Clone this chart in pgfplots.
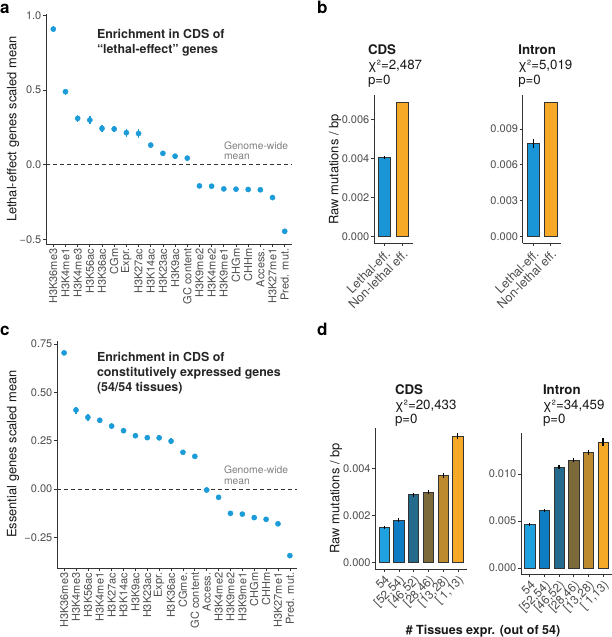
\documentclass[border=0pt]{standalone}
\usepackage{fontspec}
\setmainfont{TeX Gyre Heros}
\usepackage{pgfplots}
\pgfplotsset{compat=1.18}
\definecolor{ptblue}{RGB}{27,155,215}
\definecolor{barblue}{RGB}{26,150,214}
\definecolor{barorange}{RGB}{245,169,39}
\definecolor{dA}{RGB}{31,161,223}
\definecolor{dB}{RGB}{13,124,194}
\definecolor{dC}{RGB}{36,106,141}
\definecolor{dD}{RGB}{124,106,59}
\definecolor{dE}{RGB}{190,138,46}
\definecolor{dF}{RGB}{246,169,39}
\definecolor{axgray}{RGB}{51,51,51}
\definecolor{lblgray}{RGB}{77,77,77}
\definecolor{gwgray}{RGB}{128,128,128}
\pgfplotsset{
  ggbase/.style={
    scale only axis,
    axis lines=left,
    axis line style={-, draw=axgray, line width=0.8pt},
    tick align=outside,
    major tick length=3pt,
    tick style={draw=axgray, line width=0.7pt},
    tick label style={font=\fontsize{11}{12}\selectfont, text=lblgray},
    yticklabel style={inner sep=1.5pt},
    xticklabel style={inner sep=1.5pt},
    scaled y ticks=false,
    clip=false,
    anchor=south west,
  },
  dotplot/.style={only marks, mark=*, mark size=2.6pt, color=ptblue,
    error bars/.cd, y dir=both, y explicit, error mark=none,
    error bar style={line width=1.5pt, color=ptblue}},
  gbar/.style={ybar, bar shift=0pt, bar width=0.7, draw=axgray, line width=0.6pt, fill=#1,
    error bars/.cd, y dir=both, y explicit, error mark=-,
    error bar style={line width=1.2pt, color=black},
    error mark options={line width=1.2pt, mark size=1.2pt, color=black}},
  nbar/.style={ybar, bar shift=0pt, bar width=0.7, draw=axgray, line width=0.6pt, fill=#1},
}
\begin{document}
\begin{tikzpicture}
\path[use as bounding box] (0,0) rectangle (612pt,637pt);

% ---------------- panel a ----------------
\begin{axis}[ggbase, at={(46pt,393pt)}, width=246pt, height=230pt,
  xmin=0.4, xmax=20.6, ymin=-0.53, ymax=1.01,
  xtick={1,...,20},
  xticklabels={H3K36me3,H3K4me1,H3K4me3,H3K56ac,H3K36ac,CGm,Expr.,H3K27ac,H3K14ac,H3K23ac,H3K9ac,GC content,H3K9me2,H3K4me2,H3K9me1,CHGm,CHHm,Access.,H3K27me1,Pred. mut.},
  x tick label style={rotate=90, anchor=east},
  ytick={-0.5,0,0.5,1}, yticklabels={−0.5,0.0,0.5,1.0}]
\addplot[dashed, dash pattern=on 4pt off 3pt, color=axgray, line width=0.7pt] coordinates {(0.4,0) (20.6,0)};
\addplot[dotplot] table[x=x, y=y, y error=e] {
x y e
1 0.909 0.02
2 0.490 0.02
3 0.311 0.025
4 0.300 0.028
5 0.244 0.025
6 0.240 0.02
7 0.215 0.027
8 0.210 0.027
9 0.132 0.018
10 0.077 0.018
11 0.058 0.017
12 0.045 0.017
13 -0.141 0.008
14 -0.143 0.01
15 -0.161 0.006
16 -0.163 0.006
17 -0.165 0.006
18 -0.167 0.008
19 -0.219 0.006
20 -0.445 0.005
};
\end{axis}

% ---------------- panel c ----------------
\begin{axis}[ggbase, at={(57pt,69pt)}, width=240pt, height=227.3pt,
  xmin=0.4, xmax=20.6, ymin=-0.409, ymax=0.768,
  xtick={1,...,20},
  xticklabels={H3K36me3,H3K4me3,H3K56ac,H3K4me1,H3K27ac,H3K14ac,H3K9ac,H3K23ac,Expr.,H3K36ac,CGme.,GC content,Access.,H3K4me2,H3K9me2,H3K9me1,CHGm,CHHm,H3K27me1,Pred. mut.},
  x tick label style={rotate=90, anchor=east},
  ytick={-0.25,0,0.25,0.5,0.75}, yticklabels={−0.25,0.00,0.25,0.50,0.75}]
\addplot[dashed, dash pattern=on 4pt off 3pt, color=axgray, line width=0.7pt] coordinates {(0.4,0) (20.6,0)};
\addplot[dotplot] table[x=x, y=y, y error=e] {
x y e
1 0.705 0.01
2 0.409 0.018
3 0.371 0.018
4 0.356 0.013
5 0.326 0.015
6 0.302 0.012
7 0.276 0.014
8 0.266 0.013
9 0.265 0.013
10 0.248 0.016
11 0.190 0.01
12 0.169 0.01
13 -0.005 0.016
14 -0.043 0.008
15 -0.126 0.005
16 -0.130 0.005
17 -0.148 0.005
18 -0.157 0.005
19 -0.180 0.005
20 -0.345 0.005
};
\end{axis}

% ---------------- panel b CDS ----------------
\begin{axis}[ggbase, at={(374pt,393.7pt)}, width=38.7pt, height=147.8pt,
  xmin=0.4, xmax=2.6, ymin=-0.000345, ymax=0.007235,
  xtick={1,2}, xticklabels={Lethal-eff.,Non-lethal eff.},
  x tick label style={rotate=45, anchor=north east, font=\fontsize{12.5}{13}\selectfont},
  ytick={0,0.002,0.004,0.006}, yticklabels={0.000,0.002,0.004,0.006}]
\addplot[gbar=barblue] coordinates {(1,0.00406) +- (0,0.00003)};
\addplot[nbar=barorange] coordinates {(2,0.00689)};
\end{axis}

% ---------------- panel b Intron ----------------
\begin{axis}[ggbase, at={(522.7pt,393.7pt)}, width=38.5pt, height=147.8pt,
  xmin=0.4, xmax=2.6, ymin=-0.000562, ymax=0.0118,
  xtick={1,2}, xticklabels={Lethal-eff.,Non-lethal eff.},
  x tick label style={rotate=45, anchor=north east, font=\fontsize{12.5}{13}\selectfont},
  ytick={0,0.003,0.006,0.009}, yticklabels={0.000,0.003,0.006,0.009}]
\addplot[gbar=barblue] coordinates {(1,0.00777) +- (0,0.0003)};
\addplot[nbar=barorange] coordinates {(2,0.01125)};
\end{axis}

% ---------------- panel d CDS ----------------
\begin{axis}[ggbase, at={(375.3pt,67.9pt)}, width=91.4pt, height=141.4pt,
  xmin=0.4, xmax=6.6, ymin=-0.00027, ymax=0.00572,
  xtick={1,...,6}, xticklabels={54,{\relax[52,54)},{\relax[46,52)},{\relax[28,46)},{\relax[13,28)},{\relax[ 1,13)}},
  x tick label style={rotate=45, anchor=north east, font=\fontsize{12}{13}\selectfont},
  ytick={0,0.002,0.004}, yticklabels={0.000,0.002,0.004}]
\addplot[gbar=dA] coordinates {(1,0.00150) +- (0,0.00001)};
\addplot[gbar=dB] coordinates {(2,0.00181) +- (0,0.00002)};
\addplot[gbar=dC] coordinates {(3,0.00288) +- (0,0.00004)};
\addplot[gbar=dD] coordinates {(4,0.00300) +- (0,0.00004)};
\addplot[gbar=dE] coordinates {(5,0.00369) +- (0,0.00005)};
\addplot[gbar=dF] coordinates {(6,0.00537) +- (0,0.00008)};
\end{axis}

% ---------------- panel d Intron ----------------
\begin{axis}[ggbase, at={(521pt,62.6pt)}, width=90.8pt, height=141.1pt,
  xmin=0.4, xmax=6.6, ymin=-0.00068, ymax=0.01433,
  xtick={1,...,6}, xticklabels={54,{\relax[52,54)},{\relax[46,52)},{\relax[28,46)},{\relax[13,28)},{\relax[ 1,13)}},
  x tick label style={rotate=45, anchor=north east, font=\fontsize{12}{13}\selectfont},
  ytick={0,0.005,0.010}, yticklabels={0.000,0.005,0.010}]
\addplot[gbar=dA] coordinates {(1,0.00465) +- (0,0.00003)};
\addplot[gbar=dB] coordinates {(2,0.00614) +- (0,0.00004)};
\addplot[gbar=dC] coordinates {(3,0.01071) +- (0,0.0001)};
\addplot[gbar=dD] coordinates {(4,0.01149) +- (0,0.00012)};
\addplot[gbar=dE] coordinates {(5,0.01231) +- (0,0.00013)};
\addplot[gbar=dF] coordinates {(6,0.01340) +- (0,0.00025)};
\end{axis}

% ---------------- texts ----------------
\begin{scope}[every node/.style={inner sep=0pt, outer sep=0pt}]
\def\pl{\fontsize{17}{17}\selectfont\bfseries}
\node[anchor=base west] at (0pt,623.7pt) {\pl a};
\node[anchor=base west] at (317pt,623.7pt) {\pl b};
\node[anchor=base west] at (0pt,301pt) {\pl c};
\node[anchor=base west] at (317pt,301pt) {\pl d};

\def\tt{\fontsize{12.4}{15}\selectfont\bfseries}
\node[anchor=base west, text=black!85] at (97pt,598.2pt) {\tt Enrichment in CDS of};
\node[anchor=base west, text=black!85] at (97pt,583pt) {\tt “lethal-effect” genes};
\node[anchor=base west, text=black!85] at (97pt,275pt) {\tt Enrichment in CDS of};
\node[anchor=base west, text=black!85] at (97pt,260pt) {\tt constitutively expressed genes};
\node[anchor=base west, text=black!85] at (97pt,245pt) {\tt (54/54 tissues)};

\def\gw{\fontsize{10.3}{12}\selectfont}
\node[anchor=base west, text=gwgray] at (224pt,487.6pt) {\gw Genome-wide};
\node[anchor=base west, text=gwgray] at (224pt,477pt) {\gw mean};
\node[anchor=base west, text=gwgray] at (224pt,163.3pt) {\gw Genome-wide};
\node[anchor=base west, text=gwgray] at (224pt,152pt) {\gw mean};

\def\at{\fontsize{12.9}{14}\selectfont}
\node[rotate=90, text=black!90] at (13pt,508pt) {\at Lethal-effect genes scaled mean};
\node[rotate=90, text=black!90] at (13pt,183pt) {\at Essential genes scaled mean};
\node[rotate=90, text=black!90] at (335pt,467.6pt) {\at Raw mutations / bp};
\node[rotate=90, text=black!90] at (336pt,138.6pt) {\at Raw mutations / bp};

\def\ptb{\fontsize{13.3}{15}\selectfont\bfseries}
\def\ptr{\fontsize{13.3}{15}\selectfont}
\node[anchor=base west, text=black!90] at (368pt,582pt) {\ptb CDS};
\node[anchor=base west, text=black!90] at (368pt,567pt) {\ptr χ²=2,487};
\node[anchor=base west, text=black!90] at (368pt,552pt) {\ptr p=0};
\node[anchor=base west, text=black!90] at (518.3pt,582pt) {\ptb Intron};
\node[anchor=base west, text=black!90] at (518.3pt,567pt) {\ptr χ²=5,019};
\node[anchor=base west, text=black!90] at (518.3pt,552pt) {\ptr p=0};

\node[anchor=base west, text=black!90] at (395pt,242pt) {\ptb CDS};
\node[anchor=base west, text=black!90] at (395pt,227pt) {\ptr χ²=20,433};
\node[anchor=base west, text=black!90] at (395pt,213pt) {\ptr p=0};
\node[anchor=base west, text=black!90] at (543pt,242pt) {\ptb Intron};
\node[anchor=base west, text=black!90] at (543pt,227pt) {\ptr χ²=34,459};
\node[anchor=base west, text=black!90] at (543pt,213pt) {\ptr p=0};

\node[anchor=base, text=black!90] at (483pt,2.5pt) {\fontsize{12.5}{14}\selectfont\bfseries \# Tissues expr. (out of 54)};
\end{scope}
\end{tikzpicture}
\end{document}
